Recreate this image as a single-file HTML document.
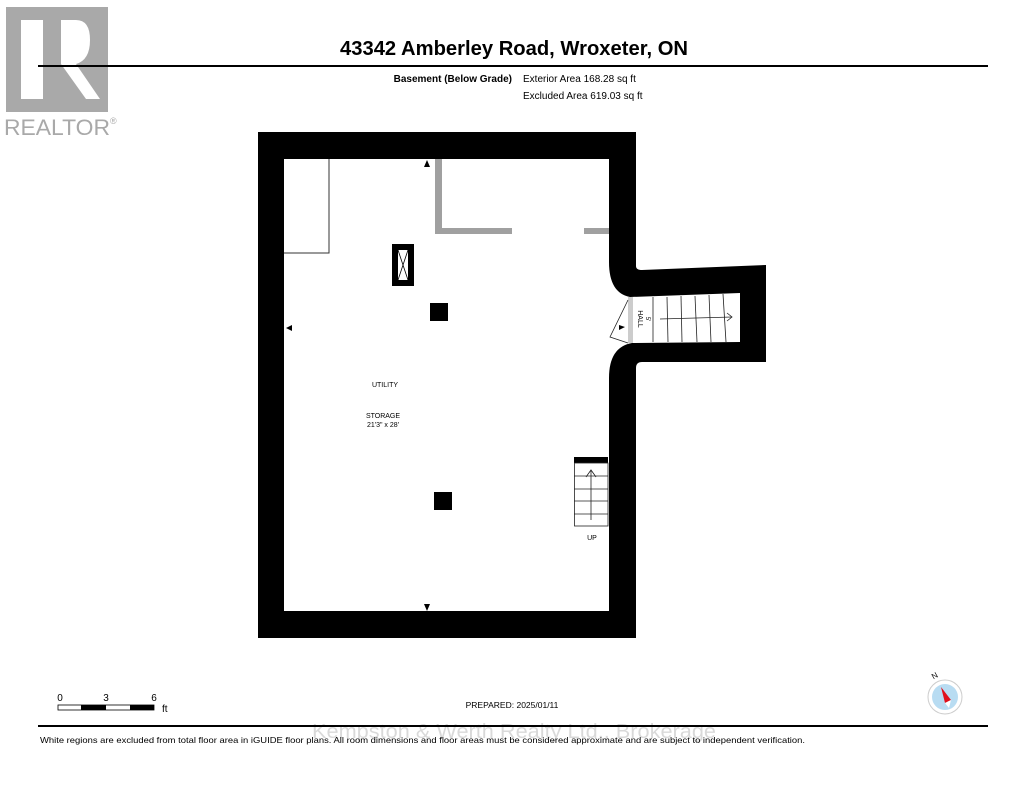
<!DOCTYPE html>
<html><head><meta charset="utf-8"><style>
html,body{margin:0;padding:0;background:#fff;}
body{width:1024px;height:791px;overflow:hidden;font-family:"Liberation Sans",Arial,sans-serif;}
</style></head><body>
<svg width="1024" height="791" viewBox="0 0 1024 791" xmlns="http://www.w3.org/2000/svg" font-family="Liberation Sans, Arial, sans-serif">
<!-- Realtor logo -->
<rect x="6" y="7" width="102" height="105" fill="#a9a9a9"/>
<rect x="21" y="20" width="22" height="79" fill="#fff"/>
<path d="M61,20 H76 Q90,20 90,40 Q90,60 76,64 L100,99 H86 L61,64 Z" fill="#fff"/>
<text x="4" y="135" font-size="22" fill="#a9a9a9" textLength="106" lengthAdjust="spacingAndGlyphs">REALTOR</text>
<text x="110" y="124" font-size="9" fill="#a9a9a9">®</text>
<!-- header -->
<text x="514" y="55" font-size="20" font-weight="bold" text-anchor="middle" textLength="348" lengthAdjust="spacingAndGlyphs">43342 Amberley Road, Wroxeter, ON</text>
<rect x="38" y="65" width="950" height="2" fill="#000"/>
<text x="512" y="82" font-size="10" font-weight="bold" text-anchor="end">Basement (Below Grade)</text>
<text x="523" y="82" font-size="10">Exterior Area 168.28 sq ft</text>
<text x="523" y="99" font-size="10">Excluded Area 619.03 sq ft</text>
<!-- walls -->
<path fill-rule="evenodd" fill="#000" d="M258,132 H636 V266 Q636,270 642,270 L766,265 V362 H642 Q636,362 636,368 V638 H258 Z
M284,159 H609 V262 Q609,293 630,297 L740,293 V342 L632,343 Q609,347 609,378 V611 H284 Z"/>
<!-- interior -->
<path d="M329,159 V253 H284" fill="none" stroke="#333" stroke-width="1"/>
<rect x="435" y="159" width="7" height="75" fill="#a0a0a0"/>
<rect x="435" y="228" width="77" height="6" fill="#a0a0a0"/>
<rect x="584" y="228" width="25" height="6" fill="#a0a0a0"/>
<rect x="392" y="244" width="22" height="42" fill="#000"/>
<rect x="398" y="250" width="10" height="30" fill="#fff"/>
<path d="M398,250 L408,280 M408,250 L398,280" stroke="#000" stroke-width="0.8"/>
<rect x="430" y="303" width="18" height="18" fill="#000"/>
<rect x="434" y="492" width="18" height="18" fill="#000"/>
<!-- door arrows -->
<path d="M424,167 L427,160 L430,167 Z" fill="#000"/>
<path d="M424,604 L427,611 L430,604 Z" fill="#000"/>
<path d="M292,325 L286,328 L292,331 Z" fill="#000"/>
<!-- stairs UP -->
<rect x="574" y="457" width="34" height="6" fill="#000"/>
<g stroke="#222" stroke-width="0.8" fill="none">
<rect x="574.5" y="463" width="33.5" height="63"/>
<line x1="574" y1="476" x2="608" y2="476"/><line x1="574" y1="489" x2="608" y2="489"/>
<line x1="574" y1="501" x2="608" y2="501"/><line x1="574" y1="514" x2="608" y2="514"/>
<line x1="591" y1="520" x2="591" y2="470"/><path d="M586,477 L591,470 L596,477"/>
</g>
<text x="592" y="540" font-size="7" text-anchor="middle">UP</text>
<!-- hall stairs -->
<rect x="628" y="297" width="5" height="46" fill="#ccc"/>
<g stroke="#222" stroke-width="0.8" fill="none">
<line x1="653" y1="297" x2="653" y2="342"/><line x1="667" y1="297" x2="668" y2="342"/>
<line x1="681" y1="296" x2="682" y2="342"/><line x1="695" y1="296" x2="697" y2="342"/>
<line x1="709" y1="295" x2="711" y2="342"/><line x1="723" y1="294" x2="726" y2="342"/>
<line x1="660" y1="319" x2="732" y2="317"/><path d="M727,313 L732,317 L727,321"/>
<path d="M628,300 L610,337 L628,343"/>
</g>
<path d="M619,325 L625,327 L619,330 Z" fill="#000"/>
<text transform="translate(638,319) rotate(90)" font-size="7" text-anchor="middle">HALL</text>
<text transform="translate(646,319) rotate(90)" font-size="6" text-anchor="middle">5'</text>
<!-- labels -->
<text x="385" y="387" font-size="7" text-anchor="middle">UTILITY</text>
<text x="383" y="418" font-size="7" text-anchor="middle">STORAGE</text>
<text x="383" y="427" font-size="7" text-anchor="middle">21'3" x 28'</text>
<!-- scale -->
<text x="60" y="701" font-size="10" text-anchor="middle">0</text>
<text x="106" y="701" font-size="10" text-anchor="middle">3</text>
<text x="154" y="701" font-size="10" text-anchor="middle">6</text>
<rect x="58" y="705" width="96" height="5" fill="#fff" stroke="#000" stroke-width="0.8"/>
<rect x="81" y="705" width="25" height="5" fill="#000"/>
<rect x="130" y="705" width="24" height="5" fill="#000"/>
<text x="162" y="712" font-size="10">ft</text>
<text x="512" y="708" font-size="8.5" text-anchor="middle">PREPARED: 2025/01/11</text>
<!-- compass -->
<circle cx="945" cy="697" r="17" fill="#fff" stroke="#ccc"/>
<circle cx="945" cy="697" r="13" fill="#b8dcf2"/>
<path d="M941,687 L951,700 L945,703 Z" fill="#e0101c"/>
<path d="M945,703 L951,700 L949,708 Z" fill="#fff"/>
<text transform="translate(936,678) rotate(-30)" font-size="8" text-anchor="middle">N</text>
<!-- footer -->
<rect x="38" y="725" width="950" height="2" fill="#000"/>
<text x="312" y="738" font-size="20" fill="#000" fill-opacity="0.15" textLength="404" lengthAdjust="spacingAndGlyphs">Kempston &amp; Werth Realty Ltd., Brokerage</text>
<text x="40" y="743" font-size="8.5" textLength="765" lengthAdjust="spacingAndGlyphs">White regions are excluded from total floor area in iGUIDE floor plans. All room dimensions and floor areas must be considered approximate and are subject to independent verification.</text>
</svg>
</body></html>
